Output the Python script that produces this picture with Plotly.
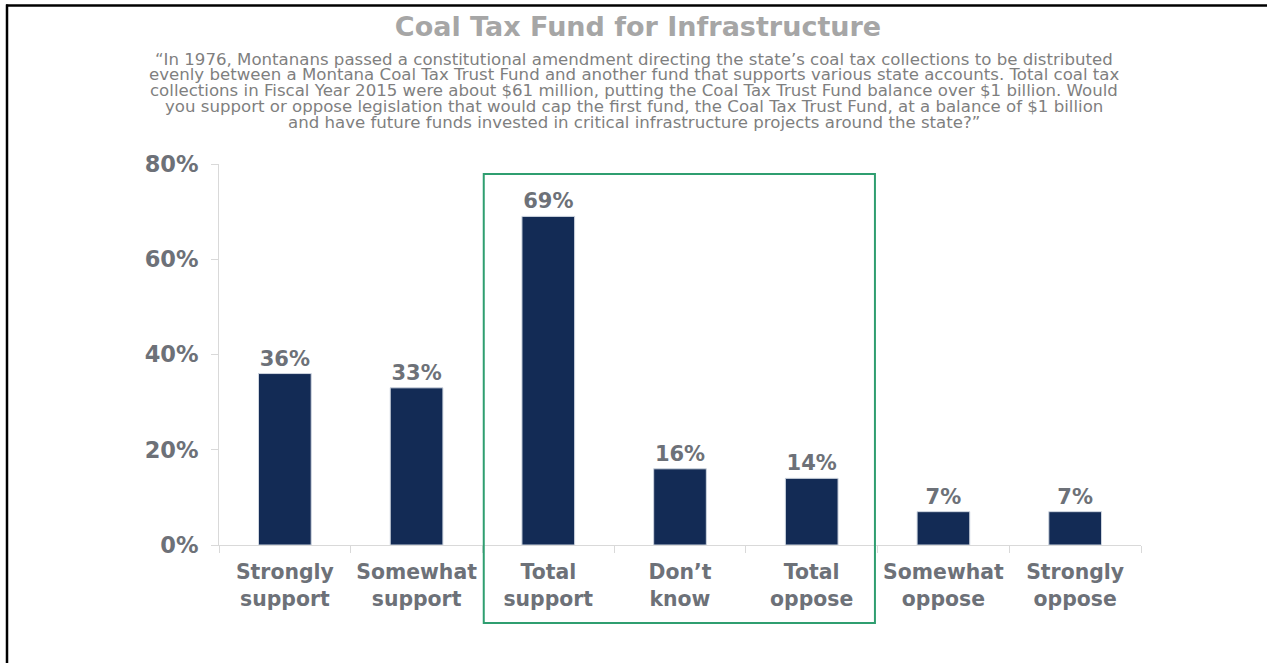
import plotly.graph_objects as go

# Survey responses
categories = ["Strongly support", "Somewhat support", "Total support", "Don’t know",
              "Total oppose", "Somewhat oppose", "Strongly oppose"]
tick_labels = ["Strongly<br>support", "Somewhat<br>support", "Total<br>support", "Don’t<br>know",
               "Total<br>oppose", "Somewhat<br>oppose", "Strongly<br>oppose"]
values = [36, 33, 69, 16, 14, 7, 7]

title_text = "Coal Tax Fund for Infrastructure"
question_lines = [
    "“In 1976, Montanans passed a constitutional amendment directing the state’s coal tax collections to be distributed",
    "evenly between a Montana Coal Tax Trust Fund and another fund that supports various state accounts. Total coal tax",
    "collections in Fiscal Year 2015 were about $61 million, putting the Coal Tax Trust Fund balance over $1 billion. Would",
    "you support or oppose legislation that would cap the first fund, the Coal Tax Trust Fund, at a balance of $1 billion",
    "and have future funds invested in critical infrastructure projects around the state?”",
]

# Page geometry
W, H = 1267, 663
ML, MR, MT, MB = 219, 126, 164, 118
PW, PH = W - ML - MR, H - MT - MB


def px_x(px):
    return (px - ML) / PW


def px_y(py):
    return (H - MB - py) / PH


FONT = "DejaVu Sans"
LABEL_GREY = "#6d7178"
AXIS_GREY = "#d9d9d9"
NAVY = "#132b55"
GREEN = "#2f9e70"

fig = go.Figure(
    go.Bar(
        x=categories,
        y=values,
        width=0.4,
        marker=dict(color=NAVY, line=dict(color="#cfd6e0", width=1)),
        text=[f"{v}%" for v in values],
        texttemplate="%{text}",
        textposition="outside",
        constraintext="none",
        textfont=dict(family=FONT, size=21, color=LABEL_GREY, weight="bold"),
        cliponaxis=False,
        hoverinfo="skip",
    )
)

fig.update_xaxes(
    type="category",
    categoryorder="array",
    categoryarray=categories,
    tickmode="array",
    tickvals=categories,
    ticktext=tick_labels,
    range=[-0.5, len(categories) - 0.5],
    showline=True,
    linecolor=AXIS_GREY,
    linewidth=1,
    ticks="outside",
    tickson="boundaries",
    ticklen=7,
    tickcolor=AXIS_GREY,
    showgrid=False,
    ticklabelstandoff=9,
    tickfont=dict(family=FONT, size=20.4, color=LABEL_GREY, weight="bold"),
)
fig.update_yaxes(
    range=[0, 80],
    tickmode="linear",
    tick0=0,
    dtick=20,
    ticksuffix="%",
    showline=True,
    linecolor=AXIS_GREY,
    linewidth=1,
    ticks="outside",
    ticklen=7,
    tickcolor=AXIS_GREY,
    showgrid=False,
    zeroline=False,
    ticklabelstandoff=8,
    tickfont=dict(family=FONT, size=22.5, color=LABEL_GREY, weight="bold"),
)

annotations = []
line_y0, line_step = 59, 15.8
for i, line in enumerate(question_lines):
    annotations.append(dict(
        text=line, xref="paper", yref="paper",
        x=px_x(634), y=px_y(line_y0 + i * line_step),
        xanchor="center", yanchor="middle", showarrow=False,
        font=dict(family=FONT, size=16.6, color="#7f7f7f"),
    ))

# Highlight frame around the summary columns
i_first = categories.index("Total support")
i_last = categories.index("Total oppose")
shapes = [
    dict(type="rect", xref="x", yref="paper",
         x0=i_first - 0.49, x1=i_last + 0.48,
         y0=px_y(623), y1=px_y(174),
         line=dict(color=GREEN, width=2), fillcolor="rgba(0,0,0,0)"),
    # slide frame edges
    dict(type="line", xref="paper", yref="paper",
         x0=px_x(6), x1=px_x(W + 5), y0=px_y(5.5), y1=px_y(5.5),
         line=dict(color="black", width=2.5)),
    dict(type="line", xref="paper", yref="paper",
         x0=px_x(7), x1=px_x(7), y0=px_y(4.5), y1=px_y(H + 5),
         line=dict(color="black", width=2.5)),
]

fig.update_layout(
    width=W,
    height=H,
    margin=dict(l=ML, r=MR, t=MT, b=MB, pad=0),
    paper_bgcolor="white",
    plot_bgcolor="white",
    showlegend=False,
    title=dict(
        text=title_text,
        xref="container", yref="container",
        x=(638 / W), y=1 - 26.5 / H,
        xanchor="center", yanchor="middle",
        font=dict(family=FONT, size=27, color="#a6a6a6", weight="bold"),
    ),
    annotations=annotations,
    shapes=shapes,
    bargap=0.6,
)

fig.write_html("out.html")
